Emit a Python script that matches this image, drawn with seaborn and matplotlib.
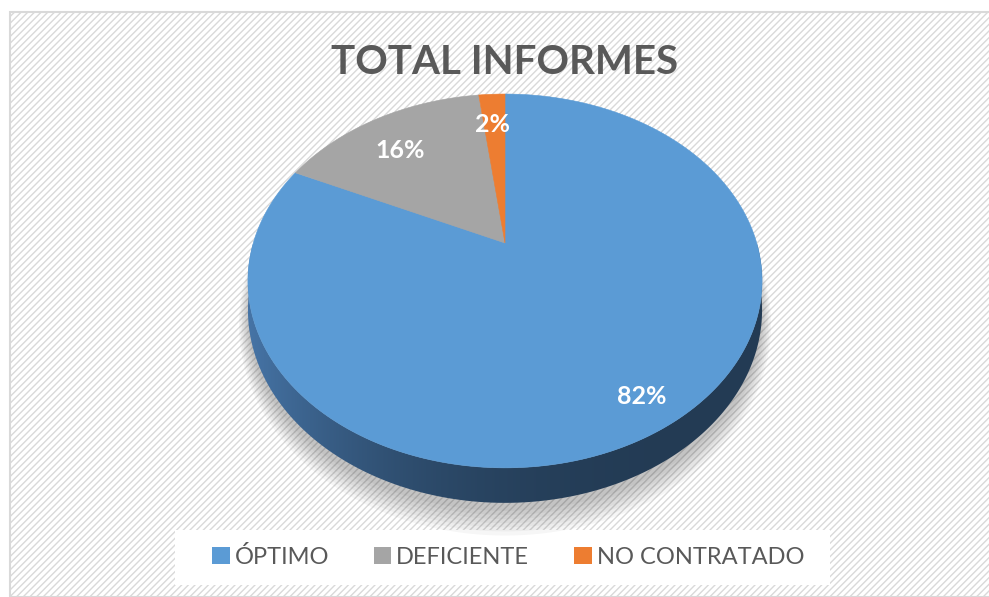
import numpy as np
import matplotlib
matplotlib.use("Agg")
import matplotlib.pyplot as plt
from matplotlib.patches import Rectangle, Polygon
import seaborn as sns

# Data
categories = ["ÓPTIMO", "DEFICIENTE", "NO CONTRATADO"]
values = [82, 16, 2]
title = "TOTAL INFORMES"

# Styles
colors = ["#5B9BD5", "#A5A5A5", "#ED7D31"]
label_pos = [(642, 397), (400, 151), (493, 124)]   # pixel positions of the % labels

sns.set_theme(style="white")
plt.rcParams["font.family"] = ["Lato", "DejaVu Sans"]
plt.rcParams["hatch.linewidth"] = 1.0
plt.rcParams["hatch.color"] = "#f5f5f5"

W, H = 989, 597
fig = plt.figure(figsize=(W / 100, H / 100), dpi=100)
fig.patch.set_facecolor("white")

# chart area with faint diagonal pattern
bg = Rectangle((10 / W, 0), 1, (H - 12) / H, transform=fig.transFigure,
               facecolor="white", edgecolor="#d9d9d9", linewidth=1.5,
               hatch="/////", zorder=-5)
fig.patches.append(bg)

# axes in pixel units (y downwards) so the perspective can be applied
ax = fig.add_axes([0, 0, 1, 1])
ax.set_zorder(2)
ax.patch.set_alpha(0)

# perspective of a tilted disc: centre (505, 243), scale k, tilt, depth ratio
cx, cy, k, sin_tilt, persp, wall = 505, 243, 251.7, 0.712, 0.203, 35


def project(a, drop=0.0):
    """math angle (rad) on the unit disc -> pixel coords"""
    X, Z = np.cos(a), np.sin(a)
    den = 1 + persp * Z
    x = cx + k * X / den
    y = cy - k * sin_tilt * Z / den + drop * (1 - persp) / den
    return x, y


# let pie work out the wedge angles, then redraw them in perspective
wedges, _ = ax.pie(values, startangle=90, counterclock=False)
angles = [(np.radians(w.theta1), np.radians(w.theta2)) for w in wedges]
for w in wedges:
    w.remove()

# soft shadow under the pie
a_all = np.linspace(0, 2 * np.pi, 400)
sx, sy = project(a_all, wall)
for i, g in enumerate(np.linspace(1.0, 1.035, 7)):
    px = cx + (sx - cx) * g
    py = cy + 8 + (sy - cy) * (g + 0.01 * i)
    ax.add_patch(Polygon(np.column_stack([px, py]), closed=True, facecolor="black",
                         alpha=0.035, linewidth=0, zorder=1))

# side wall (front half), shaded left to right
a_front = np.linspace(np.pi, 2 * np.pi, 300)
tx, ty = project(a_front)
bx, by = project(a_front, wall)
wall_poly = Polygon(np.column_stack([np.r_[tx, bx[::-1]], np.r_[ty, by[::-1]]]),
                    closed=True, facecolor="none", edgecolor="none")
ax.add_patch(wall_poly)
c_left = np.array([0x46, 0x74, 0xA6]) / 255
c_right = np.array([0x23, 0x3B, 0x54]) / 255
f = np.linspace(0, 1, 256)
f = 1 - (1 - f) ** 3
grad = (c_left[None, :] + (c_right - c_left)[None, :] * f[:, None])[None, :, :]
im = ax.imshow(grad, extent=(tx.min(), tx.max(), by.max(), ty.min()),
               aspect="auto", zorder=3, interpolation="bilinear")
im.set_clip_path(wall_poly)

# top face
for (a1, a2), col in zip(angles, colors):
    aa = np.linspace(a1, a2, max(int(abs(a2 - a1) * 80), 4))
    x, y = project(aa)
    pts = np.column_stack([np.r_[cx, x], np.r_[cy, y]])
    ax.add_patch(Polygon(pts, closed=True, facecolor=col, edgecolor=col,
                         linewidth=0.4, zorder=5))

for (x, y), v in zip(label_pos, values):
    ax.text(x, y, f"{v}%", color="white", fontsize=18, fontweight="bold",
            ha="center", va="center", zorder=10)

ax.set_xlim(0, W)
ax.set_ylim(H, 0)
ax.set_aspect("auto")
ax.axis("off")

fig.text(505 / W, (H - 63) / H, title, ha="center", va="center",
         fontsize=29, fontweight="bold", color="#595959")

# legend on a white band
fig.patches.append(Rectangle((175 / W, (H - 585) / H), 655 / W, 55 / H,
                             transform=fig.transFigure, facecolor="white",
                             edgecolor="none", zorder=-1))
handles = [Rectangle((0, 0), 1, 1, facecolor=c, edgecolor="none") for c in colors]
leg = fig.legend(handles, categories, loc="center", bbox_to_anchor=(508 / W, (H - 557) / H),
                 ncol=3, frameon=False, fontsize=17, handlelength=0.75, handleheight=0.75,
                 handletextpad=0.2, columnspacing=1.9)
for txt in leg.get_texts():
    txt.set_color("#595959")

fig.savefig("out.png", dpi=100)
